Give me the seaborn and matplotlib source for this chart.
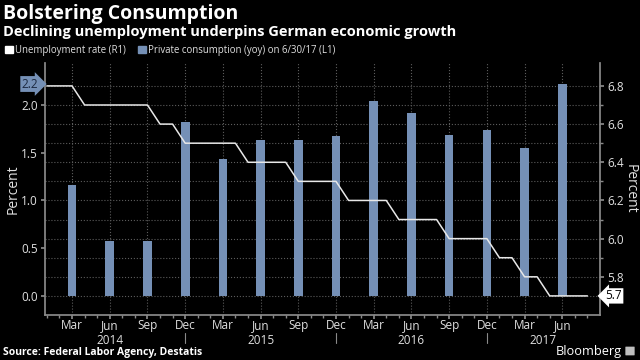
import numpy as np
import pandas as pd
import seaborn as sns
import matplotlib.pyplot as plt
import matplotlib.transforms as mtransforms
from matplotlib.patches import Patch, FancyBboxPatch

# ---------------- data ----------------
# private consumption (yoy, %), quarter ends Mar 2014 .. Jun 2017
quarter_ends = ["2014-03", "2014-06", "2014-09", "2014-12",
                "2015-03", "2015-06", "2015-09", "2015-12",
                "2016-03", "2016-06", "2016-09", "2016-12",
                "2017-03", "2017-06"]
consumption = [1.16, 0.58, 0.57, 1.82, 1.43, 1.63, 1.63, 1.68,
               2.04, 1.92, 1.69, 1.74, 1.55, 2.22]

# unemployment rate (%), monthly Jan 2014 .. Aug 2017
unemp_months = pd.period_range("2014-01", "2017-08", freq="M")
unemployment = [6.8, 6.8, 6.8, 6.7, 6.7, 6.7, 6.7, 6.7, 6.7, 6.6, 6.6, 6.5,
                6.5, 6.5, 6.5, 6.5, 6.4, 6.4, 6.4, 6.4, 6.3, 6.3, 6.3, 6.3,
                6.2, 6.2, 6.2, 6.2, 6.1, 6.1, 6.1, 6.1, 6.0, 6.0, 6.0, 6.0,
                5.9, 5.9, 5.8, 5.8, 5.7, 5.7, 5.7, 5.7]

quarter_labels = ["Mar", "Jun", "Sep", "Dec"]
years = ["2014", "2015", "2016", "2017"]

BAR = "#7590b6"
LINE = "#e8e8e8"
GRID = "#5c5c5c"
SPINE = "#8a8a8a"
TXT = "#e0e0e0"


def month_index(p):
    p = pd.Period(p, freq="M")
    return (p.year - 2014) * 12 + p.month - 1


bar_df = pd.DataFrame({"x": [month_index(q) for q in quarter_ends], "val": consumption})
line_df = pd.DataFrame({"x": [month_index(m) for m in unemp_months], "rate": unemployment})

# ---------------- style ----------------
sns.set_theme(style="dark", rc={"figure.facecolor": "black", "axes.facecolor": "black",
                                "savefig.facecolor": "black"})
plt.rcParams['font.family'] = ['Open Sans', 'DejaVu Sans']

fig = plt.figure(figsize=(6.4, 3.6), dpi=100)
ax = fig.add_axes([45 / 640, 45 / 360, 555 / 640, 252 / 360])
ax.set_facecolor("black")

sns.barplot(data=bar_df, x="x", y="val", native_scale=True, width=0.23,
            color=BAR, saturation=1, ax=ax, zorder=3, edgecolor="none", linewidth=0)

ax2 = ax.twinx()
sns.lineplot(data=line_df, x="x", y="rate", ax=ax2, color=LINE, lw=1.1, zorder=4)

# ---------------- axes ----------------
ax.set_xlim(-0.15, 44)
ax.set_ylim(-0.2, 2.44)
ax2.set_ylim(5.6, 6.92)

ax.set_yticks([0, 0.5, 1.0, 1.5, 2.0])
ax.set_yticklabels([f"{v:.1f}" for v in [0, 0.5, 1.0, 1.5, 2.0]])
ax.set_yticks(np.arange(0, 2.3, 0.2), minor=True)
ax.yaxis.remove_overlapping_locs = False
ax2.set_yticks(np.arange(5.8, 6.85, 0.2))
ax2.set_yticklabels([f"{v:.1f}" for v in np.arange(5.8, 6.85, 0.2)])
ax2.set_yticks(np.arange(5.7, 6.85, 0.1), minor=True)

qx = bar_df["x"].tolist()
ax.set_xticks(qx)
ax.set_xticklabels([quarter_labels[i % 4] for i in range(len(qx))])
ax.set_xticks(range(0, 44), minor=True)

ax.grid(False)
ax2.grid(False)
ax.grid(which="minor", axis="y", color=GRID, ls=":", lw=0.8)
ax.grid(which="major", axis="x", color=GRID, ls=":", lw=0.8)
ax.set_axisbelow(True)

for a in (ax, ax2):
    for s in a.spines.values():
        s.set_visible(False)
ax.spines["left"].set_visible(True)
ax.spines["left"].set_color(SPINE)
ax.spines["bottom"].set_visible(True)
ax.spines["bottom"].set_color(SPINE)
ax2.spines["right"].set_visible(True)
ax2.spines["right"].set_color(SPINE)

ax.tick_params(axis="x", which="major", length=3, color=SPINE, labelcolor=TXT,
               labelsize=8.5, pad=0, bottom=True)
ax.tick_params(axis="x", which="minor", length=2.5, color=SPINE, bottom=True)
ax.tick_params(axis="y", which="major", length=3, color=SPINE, labelcolor=TXT,
               labelsize=8.5, pad=2, left=True)
ax.tick_params(axis="y", which="minor", length=0)
ax2.tick_params(axis="y", which="major", length=3, color=SPINE, labelcolor=TXT,
                labelsize=8.5, pad=2, right=True)
ax2.tick_params(axis="y", which="minor", length=2, color=SPINE, right=True)

ax.set_xlabel("")
ax.set_ylabel("Percent", color=TXT, fontsize=10, va="center")
ax.yaxis.set_label_coords(-0.057, 0.5)
ax2.set_ylabel("Percent", color=TXT, fontsize=10, rotation=270, va="center")
ax2.yaxis.set_label_coords(1.055, 0.5)

# year row and separators
trans = mtransforms.blended_transform_factory(ax.transData, ax.transAxes)
for yr, xpos in zip(years, [5, 17, 29, 39.5]):
    ax.text(xpos, -0.1, yr, transform=trans, ha="center", va="center",
            color=TXT, fontsize=8.5)
for xpos in [11, 23, 35]:
    ax.plot([xpos, xpos], [-0.07, -0.112], transform=trans, color=SPINE,
            lw=0.8, clip_on=False)

# last value tags
last_c = consumption[-1]
ax.text(-0.012, last_c, f"{last_c:.1f}",
        transform=mtransforms.blended_transform_factory(ax.transAxes, ax.transData),
        ha="right", va="center", fontsize=8.5, color="#1b2840",
        bbox=dict(boxstyle="rarrow,pad=0.12", fc=BAR, ec="none"))
last_u = unemployment[-1]
ax2.text(1.01, last_u, f"{last_u:.1f}",
         transform=mtransforms.blended_transform_factory(ax2.transAxes, ax2.transData),
         ha="left", va="center", fontsize=8.5, color="black",
         bbox=dict(boxstyle="larrow,pad=0.1", fc="white", ec="none"))

# ---------------- titles / legend / footer ----------------
fig.text(3 / 640, 1 - 14 / 360, "Bolstering Consumption", color="white",
         fontsize=14, weight="bold", va="center")
fig.text(3 / 640, 1 - 32 / 360, "Declining unemployment underpins German economic growth",
         color="white", fontsize=10.5, weight="bold", va="center")
handles = [Patch(color="white", label="Unemployment rate (R1)"),
           Patch(color=BAR, label="Private consumption (yoy) on 6/30/17 (L1)")]
fig.legend(handles=handles, loc="center left", bbox_to_anchor=(2 / 640, 1 - 50 / 360),
           ncol=2, frameon=False, fontsize=6.9, labelcolor=TXT, handlelength=0.8,
           handleheight=0.8, handletextpad=0.25, columnspacing=1.3, borderaxespad=0,
           borderpad=0.3)
fig.text(3 / 640, 1 - 352 / 360, "Source: Federal Labor Agency, Destatis",
         color="white", fontsize=7.5, weight="bold", va="center")
fig.text(622 / 640, 1 - 351 / 360, "Bloomberg", color="white", fontsize=9.2,
         ha="right", va="center")
fig.patches.append(FancyBboxPatch((626 / 640, 1 - 355 / 360), 8 / 640, 8 / 360,
                                  boxstyle="round,pad=0.001", fc="#bfbfbf", ec="none",
                                  transform=fig.transFigure, figure=fig))

fig.savefig("out.png", dpi=100, facecolor="black")
